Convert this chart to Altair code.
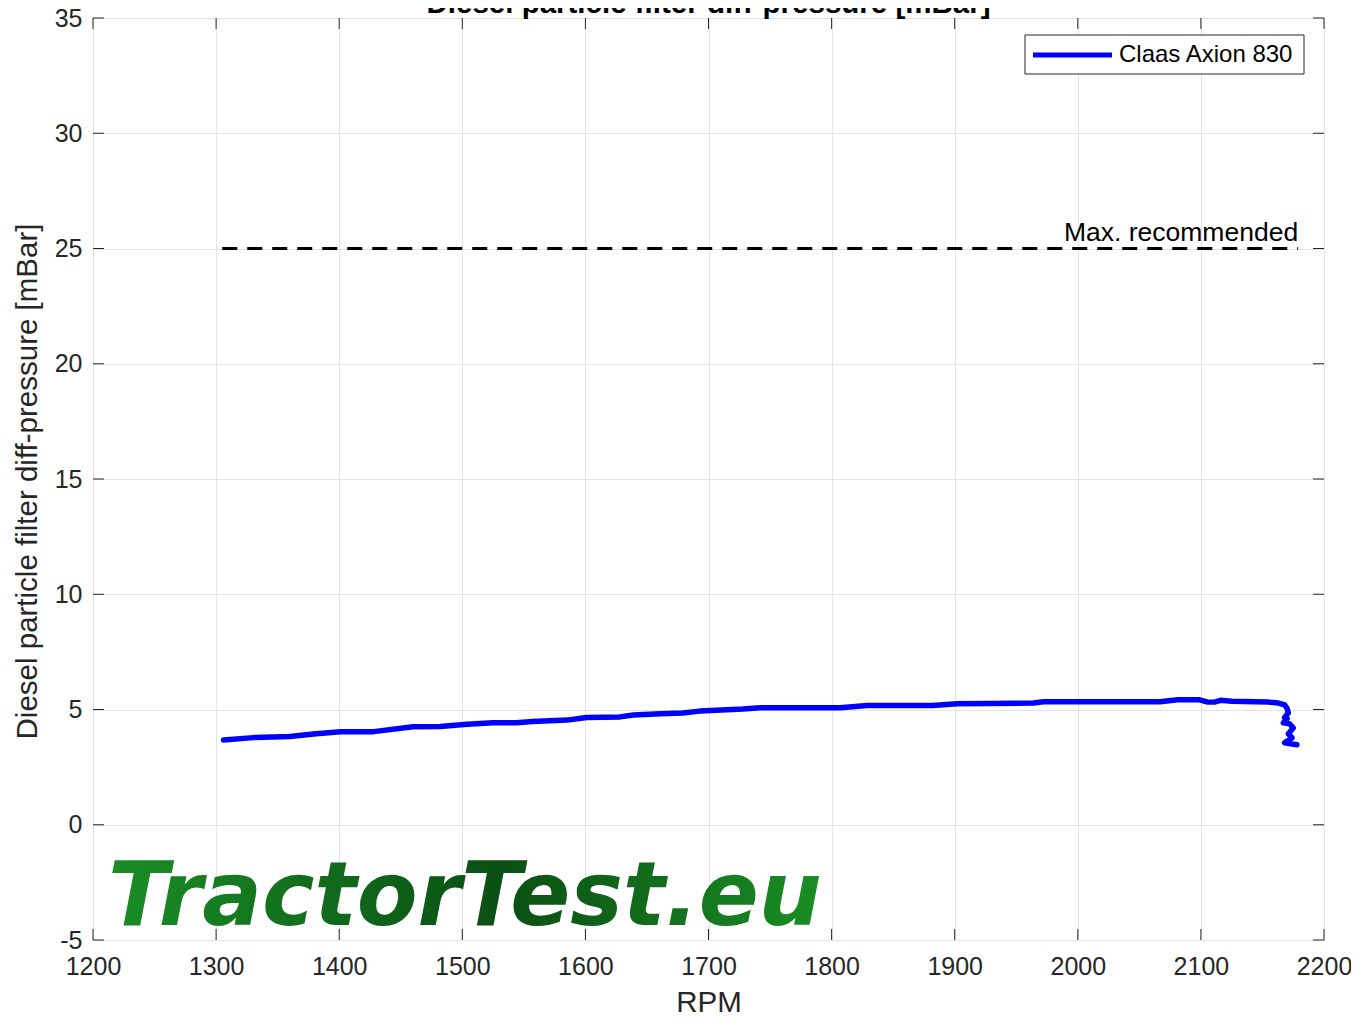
import altair as alt
import pandas as pd

# ---------------- data ----------------
rpm = [1306, 1330, 1360, 1379, 1401, 1428, 1460, 1482, 1504, 1525, 1544, 1557,
       1585, 1601, 1628, 1639, 1661, 1679, 1693, 1728, 1742, 1807, 1829, 1882,
       1902, 1964, 1972, 2050, 2067, 2081, 2099, 2105, 2111, 2116, 2125, 2155,
       2163, 2168, 2170, 2171, 2168, 2170, 2167, 2172, 2175, 2171, 2174, 2168, 2178]
dp = [3.68, 3.78, 3.83, 3.94, 4.03, 4.04, 4.25, 4.26, 4.36, 4.43, 4.43, 4.48,
      4.54, 4.65, 4.68, 4.76, 4.82, 4.85, 4.93, 5.02, 5.08, 5.08, 5.17, 5.17,
      5.25, 5.28, 5.34, 5.34, 5.34, 5.42, 5.42, 5.33, 5.32, 5.40, 5.36, 5.32,
      5.28, 5.20, 5.05, 4.85, 4.65, 4.60, 4.42, 4.38, 4.20, 3.95, 3.77, 3.56, 3.47]
series_name = "Claas Axion 830"

max_rec_value = 25
max_rec_x = [1305, 2179]
max_rec_label = "Max. recommended"

x_ticks = [1200, 1300, 1400, 1500, 1600, 1700, 1800, 1900, 2000, 2100, 2200]
y_ticks = [-5, 0, 5, 10, 15, 20, 25, 30, 35]

chart_title = "Diesel particle filter diff-pressure [mBar]"
x_title = "RPM"
y_title = "Diesel particle filter diff-pressure [mBar]"
watermark = "TractorTest.eu"

# ---------------- layout ----------------
W, H = 1231, 922
FONT = "Liberation Sans"
DARK = "#262626"
TICK = 11
BLUE = "#0000ff"

xs = alt.Scale(domain=[1200, 2200], nice=False, zero=False)
ys = alt.Scale(domain=[-5, 35], nice=False, zero=False)

x_axis = alt.Axis(values=x_ticks, format="d", title=x_title,
                  ticks=False, domain=False, grid=True,
                  gridColor="#e3e3e3", gridWidth=1,
                  labelFont=FONT, labelFontSize=25, labelColor=DARK,
                  labelPadding=14, labelFlush=False,
                  titleFont=FONT, titleFontSize=29.5, titleColor=DARK,
                  titleFontWeight="normal", titleX=W / 2, titleY=62,
                  titleBaseline="middle", titleAlign="center")
y_axis = alt.Axis(values=y_ticks, title=y_title,
                  labelExpr="replace(datum.label, '\u2212', '-')",
                  ticks=False, domain=False, grid=True,
                  gridColor="#e3e3e3", gridWidth=1,
                  labelFont=FONT, labelFontSize=25, labelColor=DARK,
                  labelPadding=11, labelFlush=False,
                  titleFont=FONT, titleFontSize=29.5, titleColor=DARK,
                  titleFontWeight="normal", titleX=-66, titleY=H / 2 + 2,
                  titleAngle=270, titleBaseline="middle", titleAlign="center")

df = pd.DataFrame({"rpm": rpm, "dp": dp, "idx": list(range(len(rpm)))})

line = alt.Chart(df).mark_line(strokeWidth=5.5, clip=True, color=BLUE,
                               strokeJoin="round", strokeCap="round").encode(
    x=alt.X("rpm:Q", scale=xs, axis=x_axis),
    y=alt.Y("dp:Q", scale=ys, axis=y_axis),
    order="idx:Q",
)

rule_df = pd.DataFrame({"rpm": [max_rec_x[0]], "rpm2": [max_rec_x[1]],
                        "dp": [max_rec_value], "label": [max_rec_label]})
max_rule = alt.Chart(rule_df).mark_rule(color="black", strokeWidth=3,
                                        strokeDash=[15, 10]).encode(
    x=alt.X("rpm:Q", scale=xs, axis=x_axis), x2="rpm2:Q",
    y=alt.Y("dp:Q", scale=ys, axis=y_axis))
max_text = alt.Chart(rule_df).mark_text(align="right", baseline="alphabetic",
                                        dy=-8, font=FONT, fontSize=26.5,
                                        color="black").encode(
    x=alt.X("rpm2:Q", scale=xs, axis=x_axis),
    y=alt.Y("dp:Q", scale=ys, axis=y_axis), text="label:N")

xt = pd.DataFrame({"rpm": x_ticks})
yt = pd.DataFrame({"dp": y_ticks})
tick_bottom = alt.Chart(xt).mark_rule(color=DARK, strokeWidth=1).encode(
    x=alt.X("rpm:Q", scale=xs, axis=x_axis), y=alt.value(H), y2=alt.value(H - TICK))
tick_top = alt.Chart(xt).mark_rule(color=DARK, strokeWidth=1).encode(
    x=alt.X("rpm:Q", scale=xs, axis=x_axis), y=alt.value(0), y2=alt.value(TICK))
tick_left = alt.Chart(yt).mark_rule(color=DARK, strokeWidth=1).encode(
    y=alt.Y("dp:Q", scale=ys, axis=y_axis), x=alt.value(0), x2=alt.value(TICK))
tick_right = alt.Chart(yt).mark_rule(color=DARK, strokeWidth=1).encode(
    y=alt.Y("dp:Q", scale=ys, axis=y_axis), x=alt.value(W), x2=alt.value(W - TICK))

title_text = alt.Chart(pd.DataFrame({"t": [chart_title]})).mark_text(
    align="center", baseline="alphabetic", font=FONT, fontSize=29.5,
    fontWeight="bold", color="black").encode(
    text="t:N", x=alt.value(W / 2), y=alt.value(-5))

# manual legend box
leg_df = pd.DataFrame({"name": [series_name]})
leg_box = alt.Chart(leg_df).mark_rect(fill="white", stroke=DARK,
                                      strokeWidth=1).encode(
    x=alt.value(932), x2=alt.value(1211), y=alt.value(17), y2=alt.value(56))
leg_line = alt.Chart(leg_df).mark_rule(color=BLUE, strokeWidth=5).encode(
    x=alt.value(940), x2=alt.value(1019), y=alt.value(37))
leg_text = alt.Chart(leg_df).mark_text(align="left", baseline="middle",
                                       font=FONT, fontSize=24,
                                       color="black").encode(
    text="name:N", x=alt.value(1026), y=alt.value(37))

green = alt.LinearGradient(
    gradient="linear", x1=0, x2=1, y1=0, y2=0,
    stops=[alt.GradientStop(color="#1a8e25", offset=0),
           alt.GradientStop(color="#0a4f13", offset=0.55),
           alt.GradientStop(color="#1a8e25", offset=1)])
wm = alt.Chart(pd.DataFrame({"t": [watermark]})).mark_text(
    align="left", baseline="alphabetic", font="DejaVu Sans", fontSize=88.5,
    fontWeight="bold", fontStyle="italic", fill=green).encode(
    text="t:N", x=alt.value(15), y=alt.value(907))

chart = alt.layer(
    wm, line, max_rule, max_text,
    tick_bottom, tick_top, tick_left, tick_right,
    leg_box, leg_line, leg_text, title_text
).properties(
    width=W, height=H,
    autosize=alt.AutoSizeParams(type="none"),
    padding={"left": 85, "top": 10, "right": 27, "bottom": 75},
    background="white",
).configure_view(stroke=DARK, strokeWidth=1)

chart.save("out.html", embed_options={"renderer": "svg", "actions": False})
